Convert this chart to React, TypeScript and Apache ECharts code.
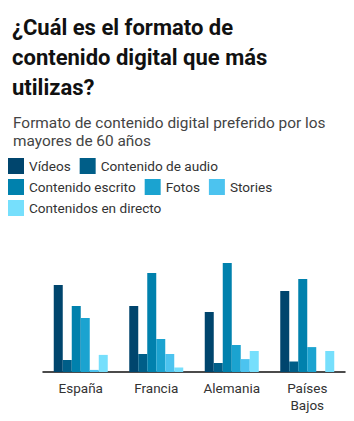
import React, { useEffect, useRef } from "react";
import * as echarts from "echarts";

const categories = ["España", "Francia", "Alemania", "Países\nBajos"];
const seriesNames = [
  "Vídeos",
  "Contenido de audio",
  "Contenido escrito",
  "Fotos",
  "Stories",
  "Contenidos en directo",
];
const videos = [29, 22, 20, 27];
const audio = [4, 6, 3, 3.5];
const escrito = [22, 33, 36.3, 31];
const fotos = [18, 11, 9, 8.3];
const stories = [0.7, 6, 4.3, 0];
const directo = [5.7, 1.5, 7, 7];
const colors = ["#00456d", "#005e88", "#0081ad", "#1ba3d0", "#4cc3ef", "#76dffc"];

export default function App() {
  const ref = useRef<HTMLDivElement>(null);
  useEffect(() => {
    document.body.style.margin = "0";
    const chart = echarts.init(ref.current!, null, { renderer: "svg" });
    const data = [videos, audio, escrito, fotos, stories, directo];
    chart.setOption({
      animation: false,
      textStyle: { fontFamily: "Roboto" },
      title: [
        {
          text: "¿Cuál es el formato de\ncontenido digital que más\nutilizas?",
          left: 7,
          top: 7,
          textStyle: {
            fontFamily: "Roboto",
            fontSize: 22,
            fontWeight: "bold",
            color: "#111",
            lineHeight: 30,
          },
        },
        {
          text: "Formato de contenido digital preferido por los\nmayores de 60 años",
          left: 8,
          top: 109,
          textStyle: {
            fontFamily: "Roboto",
            fontSize: 15.4,
            fontWeight: "normal",
            color: "#444",
            lineHeight: 18,
          },
        },
      ],
      legend: {
        left: 8,
        top: 158,
        width: 280,
        itemWidth: 16,
        itemHeight: 16,
        itemGap: 5,
        icon: "rect",
        padding: 0,
        data: seriesNames,
        textStyle: {
          fontFamily: "Roboto",
          fontSize: 13.6,
          color: "#333",
          lineHeight: 16,
          padding: [0, 4, 0, 0],
        },
      },
      grid: { left: 43, right: 9, top: 252, bottom: 49 },
      xAxis: {
        type: "category",
        data: categories,
        axisLine: { lineStyle: { color: "#111", width: 1.5 } },
        axisTick: { show: false },
        axisLabel: {
          color: "#333",
          fontSize: 13.5,
          margin: 7,
          lineHeight: 17,
          fontFamily: "Roboto",
        },
      },
      yAxis: {
        type: "value",
        min: 0,
        max: 40,
        show: false,
        splitLine: { show: false },
      },
      series: seriesNames.map((name, i) => ({
        name,
        type: "bar",
        data: data[i],
        barWidth: 9,
        barGap: "0%",
        itemStyle: { color: colors[i] },
      })),
    });
    return () => chart.dispose();
  }, []);
  return <div ref={ref} style={{ width: 354, height: 421 }} />;
}
